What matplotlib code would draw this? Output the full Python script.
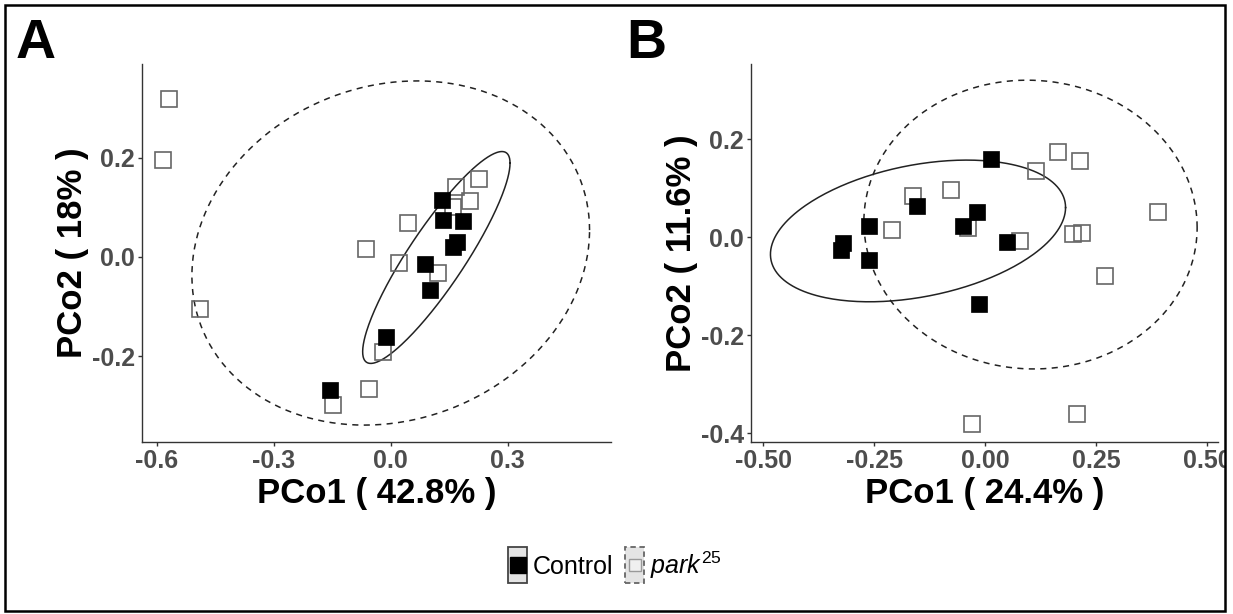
import numpy as np
import matplotlib
matplotlib.use('Agg')
import matplotlib.pyplot as plt
from matplotlib.patches import Rectangle
from matplotlib.lines import Line2D

plt.rcParams['font.family'] = ['Liberation Sans', 'DejaVu Sans']
plt.rcParams['mathtext.fontset'] = 'custom'
plt.rcParams['mathtext.rm'] = 'Liberation Sans'
plt.rcParams['mathtext.it'] = 'Liberation Sans:italic'

# ---- data ----
# panel A
a_ctrl_x = [0.131, 0.135, 0.185, 0.169, 0.161, 0.088, 0.101, -0.012, -0.156]
a_ctrl_y = [0.115, 0.074, 0.072, 0.031, 0.021, -0.015, -0.067, -0.161, -0.267]
a_park_x = [-0.568, -0.583, -0.490, -0.063, 0.045, 0.022, 0.122, 0.167, 0.203, 0.226, 0.160, -0.019, -0.055, -0.148]
a_park_y = [0.318, 0.194, -0.105, 0.017, 0.069, -0.013, -0.032, 0.140, 0.113, 0.157, 0.100, -0.191, -0.265, -0.298]
# panel B
b_ctrl_x = [-0.320, -0.325, -0.262, -0.262, -0.153, -0.017, -0.050, 0.049, 0.013, -0.013]
b_ctrl_y = [-0.013, -0.027, 0.022, -0.046, 0.064, 0.051, 0.022, -0.010, 0.159, -0.136]
b_park_x = [-0.162, -0.209, -0.077, -0.038, 0.115, 0.165, 0.214, 0.079, 0.198, 0.219, 0.390, 0.271, -0.030, 0.208]
b_park_y = [0.083, 0.014, 0.096, 0.019, 0.134, 0.173, 0.156, -0.008, 0.006, 0.008, 0.051, -0.080, -0.381, -0.361]

# ellipses: centre x, centre y, half width, half height, correlation
a_ctrl_ell = [0.117, -0.001, 0.189, 0.213, 0.89]
a_park_ell = [0.0, 0.008, 0.51, 0.346, 0.133]
b_ctrl_ell = [-0.151, 0.0125, 0.3325, 0.1445, 0.33]
b_park_ell = [0.1025, 0.0255, 0.3755, 0.2945, -0.02]

a_xticks = [-0.6, -0.3, 0.0, 0.3]
a_yticks = [-0.2, 0.0, 0.2]
b_xticks = [-0.50, -0.25, 0.00, 0.25, 0.50]
b_yticks = [-0.4, -0.2, 0.0, 0.2]

a_xlabel = 'PCo1 ( 42.8% )'
a_ylabel = 'PCo2 ( 18% )'
b_xlabel = 'PCo1 ( 24.4% )'
b_ylabel = 'PCo2 ( 11.6% )'

legend_labels = ['Control', r'$\mathit{park}^{25}$']


def ellipse_xy(p, n=300):
    cx, cy, sx, sy, rho = p
    t = np.linspace(0, 2 * np.pi, n)
    x = cx + sx * np.cos(t)
    y = cy + sy * (rho * np.cos(t) + np.sqrt(1 - rho ** 2) * np.sin(t))
    return x, y


W, H = 1233, 614
fig = plt.figure(figsize=(W / 100, H / 100), dpi=100)

ax_a = fig.add_axes([142 / W, 1 - 442 / H, 469 / W, 378 / H])
ax_b = fig.add_axes([750.7 / W, 1 - 442 / H, 467.3 / W, 378 / H])

dash = (0, (4, 3.5))
msize = 12
tick_col = '#4d4d4d'

panels = [
    (ax_a, a_ctrl_x, a_ctrl_y, a_park_x, a_park_y, a_ctrl_ell, a_park_ell,
     a_xticks, a_yticks, '{:.1f}', (-0.638, 0.565), (-0.372, 0.388), a_xlabel, a_ylabel),
    (ax_b, b_ctrl_x, b_ctrl_y, b_park_x, b_park_y, b_ctrl_ell, b_park_ell,
     b_xticks, b_yticks, '{:.2f}', (-0.528, 0.525), (-0.418, 0.353), b_xlabel, b_ylabel),
]

for ax, cx, cy, px, py, ce, pe, xt, yt, xfmt, xl, yl, xlab, ylab in panels:
    ax.plot(px, py, 's', ms=msize, mfc='none', mec='#666666', mew=1.2, zorder=2)
    ax.plot(cx, cy, 's', ms=msize, mfc='black', mec='black', mew=0.5, zorder=3)
    ex, ey = ellipse_xy(ce)
    ax.plot(ex, ey, color='#222222', lw=1.1, zorder=1)
    ex, ey = ellipse_xy(pe)
    ax.plot(ex, ey, color='#222222', lw=1.1, ls=dash, zorder=1)

    ax.set_xlim(xl)
    ax.set_ylim(yl)
    ax.set_xticks(xt, [xfmt.format(v) for v in xt])
    ax.set_yticks(yt, ['{:.1f}'.format(v) for v in yt])
    for s in ['top', 'right']:
        ax.spines[s].set_visible(False)
    for s in ['left', 'bottom']:
        ax.spines[s].set_color('#333333')
        ax.spines[s].set_linewidth(1.0)
    ax.tick_params(length=3, width=1, color='#333333', labelsize=18, labelcolor=tick_col, pad=2)
    for lab in ax.get_xticklabels() + ax.get_yticklabels():
        lab.set_fontweight('bold')

    ax.set_xlabel(xlab, fontsize=25, fontweight='bold', color='black')
    ax.xaxis.set_label_coords(0.5, (442 - 503) / 378)
    ax.xaxis.label.set_va('baseline')
    ax.set_ylabel(ylab, fontsize=25, fontweight='bold', color='black')
    ax.yaxis.set_label_coords(-60 / 469, 0.5)
    ax.yaxis.label.set_va('baseline')

fig.text(16 / W, 1 - 58 / H, 'A', fontsize=40, fontweight='bold', va='baseline', ha='left')
fig.text(626 / W, 1 - 58 / H, 'B', fontsize=40, fontweight='bold', va='baseline', ha='left')

# legend keys, drawn by hand in figure pixels
def fx(p):
    return p / W


def fy(p):
    return 1 - p / H


key_w, key_h = 19, 36
key_top = 547
for left, ls, edge, mfc, mec, ms, txt_x, label in [
        (508, '-', '#444444', 'black', 'black', msize, 533, legend_labels[0]),
        (625, (0, (3, 2)), '#666666', '#f0f0f0', '#999999', 9, 650, legend_labels[1])]:
    fig.patches.append(Rectangle((fx(left), fy(key_top + key_h)), key_w / W, key_h / H,
                                 transform=fig.transFigure, facecolor='#e4e4e4',
                                 edgecolor=edge, lw=1.3, ls=ls))
    fig.lines.append(Line2D([fx(left + key_w / 2)], [fy(key_top + key_h / 2)],
                            transform=fig.transFigure, ls='none', marker='s', ms=ms,
                            mfc=mfc, mec=mec, mew=1))
    fig.text(fx(txt_x), fy(574), label, fontsize=18, va='baseline', ha='left')

# figure border
fig.patches.append(Rectangle((1225 / W, 0), 8 / W, 1, transform=fig.transFigure,
                             facecolor='white', edgecolor='none', zorder=20))
fig.patches.append(Rectangle((5 / W, 3 / H), 1220 / W, 606 / H, transform=fig.transFigure,
                             fill=False, edgecolor='black', lw=1.8, zorder=21))

fig.savefig('out.png', dpi=100)
